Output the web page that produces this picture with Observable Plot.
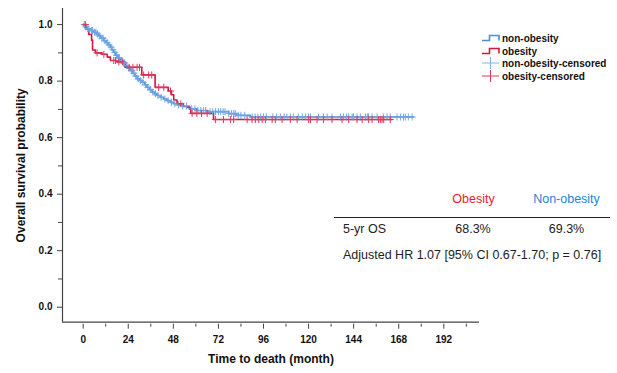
<!DOCTYPE html>
<html><head><meta charset="utf-8">
<script src="https://cdn.jsdelivr.net/npm/d3@7"></script>
<script src="https://cdn.jsdelivr.net/npm/@observablehq/plot@0.6"></script>
<style>
body{margin:0;background:#fff;}
#wrap{position:relative;width:617px;height:373px;font-family:"Liberation Sans",Arial,sans-serif;}
.abs{position:absolute;white-space:nowrap;line-height:1;}
.leg{position:absolute;left:481px;font-weight:bold;font-size:10px;color:#111;display:flex;align-items:center;height:12px;}
.leg svg{margin-right:2px;}
.tb{font-size:12.5px;color:#222;}
</style></head><body><div id="wrap"></div>
<script>
// Kaplan-Meier step points (month, survival)
const obesityTime = [0, 1.5, 3.0, 4.5, 5.0, 6.5, 10.0, 12.8, 14.5, 18.0, 21.5, 22.2, 31.2, 38.3, 45.3, 47.0, 48.2, 50.0, 53.3, 56.5, 57.3, 69.4];
const obesitySurv = [1.000, 0.985, 0.965, 0.945, 0.910, 0.900, 0.895, 0.885, 0.873, 0.868, 0.862, 0.849, 0.822, 0.778, 0.765, 0.752, 0.733, 0.720, 0.710, 0.702, 0.686, 0.664];
const obesityEnd = 164.5;
const nonObesityTime = [0, 1.0, 2.0, 3.5, 5.5, 7.0, 8.3, 9.5, 11.0, 12.3, 13.3, 14.5, 15.3, 16.3, 17.2, 18.5, 19.8, 21.0, 22.5, 23.8, 25.2, 26.5, 27.5, 28.7, 30.0, 31.4, 32.7, 34.0, 35.3, 36.7, 38.0, 39.4, 41.0, 42.9, 44.5, 46.4, 48.2, 50.0, 52.7, 55.3, 57.1, 60.6, 66.0, 77.5, 81.5, 89.0];
const nonObesitySurv = [1.000, 0.992, 0.985, 0.979, 0.973, 0.967, 0.960, 0.952, 0.943, 0.936, 0.928, 0.920, 0.911, 0.902, 0.892, 0.882, 0.873, 0.864, 0.855, 0.846, 0.837, 0.828, 0.818, 0.808, 0.802, 0.796, 0.787, 0.778, 0.770, 0.761, 0.755, 0.749, 0.743, 0.737, 0.731, 0.725, 0.720, 0.716, 0.712, 0.707, 0.702, 0.696, 0.692, 0.685, 0.679, 0.673];
const nonObesityEnd = 176;
// censored times (month)
const obesityCensor = [1.2, 7.4, 11.0, 16.3, 17.2, 19.0, 21.0, 24.5, 26.5, 28.7, 30.0, 32.2, 34.9, 36.5, 40.2, 42.9, 46.5, 52.0, 58.0, 60.5, 63.0, 66.0, 70.4, 74.7, 78.4, 80.1, 87.3, 89.9, 91.7, 93.5, 95.3, 97.0, 100.6, 102.3, 105.9, 110.3, 113.9, 120.1, 121.0, 124.5, 128.0, 132.5, 137.8, 141.4, 145.8, 148.5, 152.0, 153.8, 157.3, 158.2, 159.1, 160.0, 163.5];
const nonObesityCensor = [0.6, 1.4, 2.4, 3.0, 4.4, 5.0, 6.0, 6.8, 7.6, 8.8, 10.0, 10.6, 11.6, 12.8, 13.8, 14.9, 15.8, 16.8, 17.8, 18.9, 19.3, 20.4, 21.5, 22.0, 23.2, 24.4, 25.7, 26.0, 27.0, 28.0, 29.3, 30.6, 31.8, 33.2, 34.5, 35.8, 37.2, 38.5, 39.8, 41.5, 43.5, 45.2, 47.0, 48.8, 50.8, 53.0, 55.0, 57.8, 59.5, 61.0, 62.6, 64.0, 65.2, 67.5, 69.0, 70.5, 72.0, 73.2, 74.5, 75.5, 77.5, 79.0, 80.2, 81.0, 82.5, 84.0, 86.0, 90.0, 91.5, 93.0, 94.5, 96.0, 97.5, 101.0, 103.0, 105.0, 107.0, 108.5, 110.3, 111.9, 114.6, 116.7, 118.3, 119.9, 121.0, 125.3, 127.9, 129.9, 132.5, 137.0, 138.6, 140.2, 141.2, 143.2, 143.9, 145.8, 147.6, 150.3, 151.3, 151.9, 153.8, 156.5, 159.8, 161.8, 163.5, 167.1, 168.9, 170.5, 171.5, 173.1, 175.1];
// axis ticks
const xTicks = [0, 24, 48, 72, 96, 120, 144, 168, 192];
const xMinorTicks = [12, 36, 60, 84, 108, 132, 156, 180, 204];
const yTicks = [0, 0.2, 0.4, 0.6, 0.8, 1.0];
const yMinorTicks = [0.1, 0.3, 0.5, 0.7, 0.9];
const xDomain = [-11, 211];
const yDomain = [-0.053, 1.057];
// labels
const legendLabels = ["non-obesity", "obesity", "non-obesity-censored", "obesity-censored"];
const tableHeaders = ["Obesity", "Non-obesity"];
const osLabel = "5-yr OS";
const osValues = ["68.3%", "69.3%"];
const hrText = "Adjusted HR 1.07 [95% CI 0.67-1.70; p = 0.76]";

const blue = "#4a90d9", red = "#d3173f";

function curve(times, survs, end) {
  const pts = times.map((t, i) => ({t, s: survs[i]}));
  pts.push({t: end, s: survs[survs.length - 1]});
  return pts;
}
function survAt(times, survs, t) {
  let s = survs[0];
  for (let i = 0; i < times.length; i++) if (times[i] <= t) s = survs[i];
  return s;
}
const obC = curve(obesityTime, obesitySurv, obesityEnd);
const noC = curve(nonObesityTime, nonObesitySurv, nonObesityEnd);
const obCen = obesityCensor.map(t => ({t, s: survAt(obesityTime, obesitySurv, t)}));
const noCen = nonObesityCensor.map(t => ({t, s: survAt(nonObesityTime, nonObesitySurv, t)}));

const axisColor = "#444";
const chart = Plot.plot({
  width: 617, height: 373,
  marginLeft: 62, marginRight: 138, marginTop: 8, marginBottom: 51.3,
  x: {domain: xDomain},
  y: {domain: yDomain},
  style: {fontFamily: "'Liberation Sans', Arial, sans-serif", fontSize: "10px", fontWeight: "bold", background: "#fff", color: "#111"},
  marks: [
    Plot.ruleX([xDomain[0]], {stroke: axisColor, strokeWidth: 1.2}),
    Plot.ruleY([yDomain[0]], {stroke: axisColor, strokeWidth: 1.2}),
    Plot.axisY({ticks: yTicks, tickSize: 5, tickPadding: 5, tickFormat: d3.format(".1f"), stroke: axisColor, label: null}),
    Plot.axisY({ticks: yMinorTicks, tickSize: 4, tickFormat: () => "", stroke: axisColor, label: null}),
    Plot.axisX({ticks: xTicks, tickSize: 5, tickPadding: 7, dy: 2, stroke: axisColor, label: null}),
    Plot.axisX({ticks: xMinorTicks, tickSize: 3, dy: 2, tickFormat: () => "", stroke: axisColor, label: null}),
    Plot.text(["Overall survival probability"], {frameAnchor: "left", textAnchor: "middle", dx: -41, rotate: -90, fontSize: 12, fontWeight: "bold", fill: "#111"}),
    Plot.text(["Time to death (month)"], {frameAnchor: "bottom", dy: 41, fontSize: 12, fontWeight: "bold", fill: "#111"}),
    Plot.line(noC, {x: "t", y: "s", curve: "step-after", stroke: blue, strokeWidth: 1.6}),
    Plot.line(obC, {x: "t", y: "s", curve: "step-after", stroke: red, strokeWidth: 1.6}),
    Plot.dot(noCen, {x: "t", y: "s", symbol: "plus", r: 2.4, stroke: "#6fa6e2", strokeWidth: 1}),
    Plot.dot(obCen, {x: "t", y: "s", symbol: "plus", r: 2.4, stroke: "#dc3a5c", strokeWidth: 1})
  ]
});
const wrap = document.getElementById("wrap");
wrap.appendChild(chart);

// legend
const stepSw = c => `<svg width="19" height="12"><path d="M1,8.5H8.5V3.5H18V8.5" fill="none" stroke="${c}" stroke-width="1.6"/></svg>`;
const plusSw = c => `<svg width="19" height="12"><path d="M1,6H18M9.5,0V12" fill="none" stroke="${c}" stroke-width="1"/></svg>`;
const legSw = [stepSw(blue), stepSw(red), plusSw("#7fb0e6"), plusSw("#dc3a5c")];
const legY = [32, 45, 57, 70];
legendLabels.forEach((l, i) => {
  const d = document.createElement("div");
  d.className = "leg";
  d.style.top = legY[i] + "px";
  d.innerHTML = legSw[i] + "<span>" + l + "</span>";
  wrap.appendChild(d);
});
// table
function addText(txt, x, y, anchor, color) {
  const d = document.createElement("div");
  d.className = "abs tb";
  d.textContent = txt;
  d.style.top = (y - 7) + "px";
  if (anchor === "middle") { d.style.left = x + "px"; d.style.transform = "translateX(-50%)"; }
  else d.style.left = x + "px";
  if (color) d.style.color = color;
  wrap.appendChild(d);
}
addText(tableHeaders[0], 473.5, 200, "middle", "#ee1c2e");
addText(tableHeaders[1], 566.5, 200, "middle", "#2a82d4");
const hr = document.createElement("div");
hr.style.cssText = "position:absolute;left:334px;top:217px;width:276px;height:1.3px;background:#222;";
wrap.appendChild(hr);
addText(osLabel, 343, 230, "start");
addText(osValues[0], 473, 230, "middle");
addText(osValues[1], 566.5, 230, "middle");
addText(hrText, 343, 256, "start");
</script></body></html>
